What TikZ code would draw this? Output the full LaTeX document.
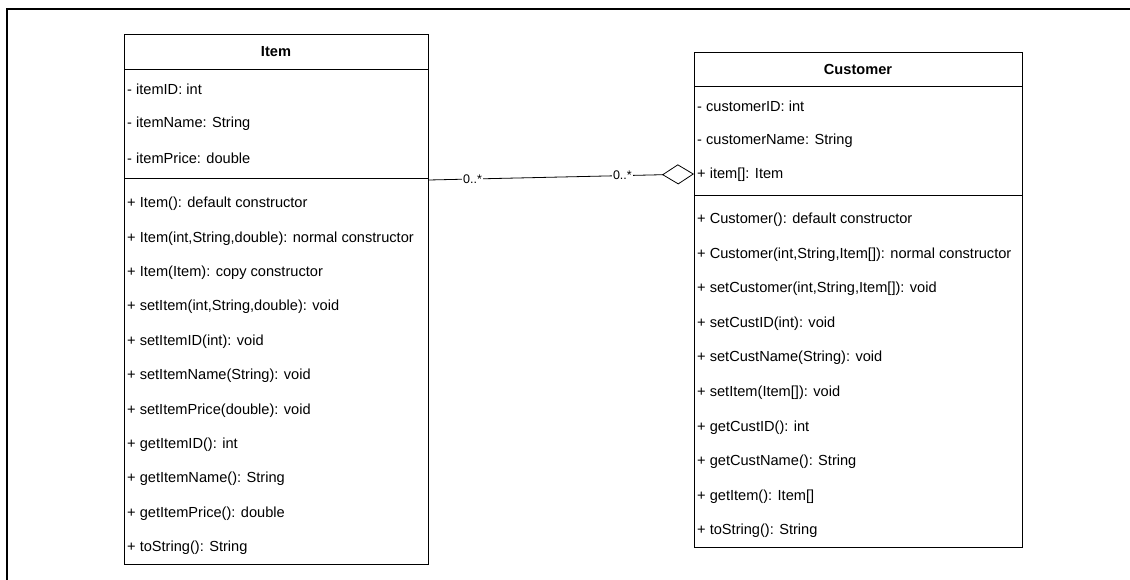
\documentclass[tikz,border=0pt]{standalone}
\usepackage{fontspec}
\setmainfont{Liberation Sans}
\usetikzlibrary{arrows.meta}

\tikzset{
  classbox/.style={draw, line width=0.8pt, inner sep=0pt, anchor=north west},
  member/.style={anchor=west, inner sep=0pt, font=\fontsize{14.6}{16}\selectfont},
  classname/.style={font=\bfseries\fontsize{14.6}{16}\selectfont},
  mult/.style={fill=white, inner sep=1pt, font=\fontsize{12.5}{14}\selectfont},
}

\begin{document}
\begin{tikzpicture}[x=1pt,y=-1pt]

	\useasboundingbox (0,0) rectangle (1130,580);

	% frame
	\draw[line width=1.6pt] (7,580) -- (7,9) -- (1130,9);

	% class Item
	\node[classbox, minimum width=304pt, minimum height=530pt] (item) at (124,34) {};
	\node[classname] (itemname) at (276,51.5) {Item};
	\draw[line width=0.8pt] (item.west |- 0,69)  -- (item.east |- 0,69);
	\draw[line width=0.8pt] (item.west |- 0,178) -- (item.east |- 0,178);
	\foreach \txt [count=\i] in {- itemID: int, - itemName: String, - itemPrice: double}
		\node[member] (iattr\i) at (127,{89+34.5*(\i-1)}) {\txt};
	\foreach \txt [count=\i] in {+ Item(): default constructor,
			{+ Item(int,String,double): normal constructor},
			+ Item(Item): copy constructor,
			{+ setItem(int,String,double): void},
			+ setItemID(int): void,
			+ setItemName(String): void,
			+ setItemPrice(double): void,
			+ getItemID(): int,
			+ getItemName(): String,
			+ getItemPrice(): double,
			+ toString(): String}
		\node[member] (imeth\i) at (127,{204+34.4*(\i-1)}) {\txt};

	% class Customer
	\node[classbox, minimum width=328pt, minimum height=495pt] (customer) at (694,52) {};
	\node[classname] (custname) at (858,69) {Customer};
	\draw[line width=0.8pt] (customer.west |- 0,86)  -- (customer.east |- 0,86);
	\draw[line width=0.8pt] (customer.west |- 0,195) -- (customer.east |- 0,195);
	\foreach \txt [count=\i] in {- customerID: int, - customerName: String, + item[]: Item}
		\node[member] (cattr\i) at (697,{106+34.5*(\i-1)}) {\txt};
	\foreach \txt [count=\i] in {+ Customer(): default constructor,
			{+ Customer(int,String,Item[]): normal constructor},
			{+ setCustomer(int,String,Item[]): void},
			+ setCustID(int): void,
			+ setCustName(String): void,
			+ setItem(Item[]): void,
			+ getCustID(): int,
			+ getCustName(): String,
			+ getItem(): Item[],
			+ toString(): String}
		\node[member] (cmeth\i) at (697,{220+34.55*(\i-1)}) {\txt};

	% aggregation
	\draw[line width=0.8pt, -{Diamond[open, length=32pt, width=20pt, line width=0.8pt]}]
		(item.east |- 0,180) -- node[mult, pos=0.165] {0..*} node[mult, pos=0.73] {0..*}
		(customer.west |- 0,174);

\end{tikzpicture}
\end{document}
